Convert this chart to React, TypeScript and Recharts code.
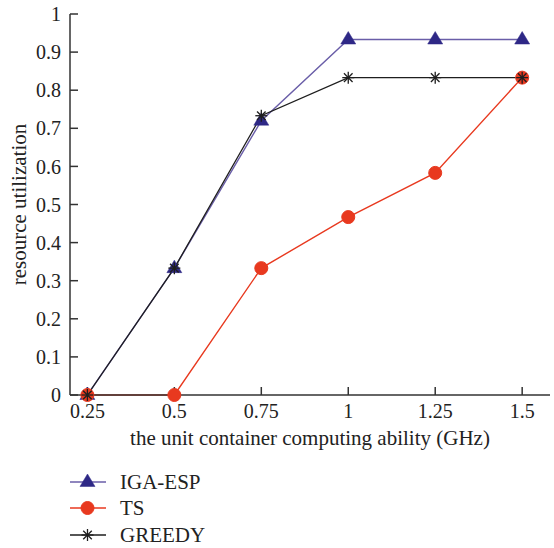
import React from 'react';
import { LineChart, Line, XAxis, YAxis, Legend, Label } from 'recharts';

const capacities = [0.25, 0.5, 0.75, 1, 1.25, 1.5];
const igaEspValues = [0, 0.333, 0.72, 0.933, 0.933, 0.933];
const tsValues = [0, 0, 0.333, 0.467, 0.583, 0.833];
const greedyValues = [0, 0.333, 0.733, 0.833, 0.833, 0.833];
const xTicks = [0.25, 0.5, 0.75, 1, 1.25, 1.5];
const yTicks = [0, 0.1, 0.2, 0.3, 0.4, 0.5, 0.6, 0.7, 0.8, 0.9, 1];
const seriesNames = ['IGA-ESP', 'TS', 'GREEDY'];
const seriesKeys = ['iga', 'ts', 'greedy'];

const data = capacities.map((c, i) => ({
  x: c,
  iga: igaEspValues[i],
  ts: tsValues[i],
  greedy: greedyValues[i],
}));

const FONT = '"Liberation Serif", "DejaVu Serif", serif';
const FS_TICK = 20;
const FS_LABEL = 21;
const AXIS = '#333';
const TEXT = '#222';

const IGA_LINE = '#6a5ea8';
const IGA_MARK = '#2e2886';
const TS_COLOR = '#e8391f';
const GREEDY_COLOR = '#1e1e1e';

const Triangle = ({ cx, cy }: any) => {
  if (cx == null || cy == null) return null;
  return (
    <polygon
      points={`${cx},${cy - 8} ${cx - 7.5},${cy + 4.5} ${cx + 7.5},${cy + 4.5}`}
      fill={IGA_MARK}
      stroke={IGA_MARK}
      strokeWidth={0.5}
    />
  );
};

const Circle = ({ cx, cy }: any) => {
  if (cx == null || cy == null) return null;
  return <circle cx={cx} cy={cy} r={6.5} fill={TS_COLOR} stroke={TS_COLOR} />;
};

const Star = ({ cx, cy }: any) => {
  if (cx == null || cy == null) return null;
  const r = 6;
  const d = 4.3;
  return (
    <g stroke={GREEDY_COLOR} strokeWidth={1.3}>
      <line x1={cx - r} y1={cy} x2={cx + r} y2={cy} />
      <line x1={cx} y1={cy - r} x2={cx} y2={cy + r} />
      <line x1={cx - d} y1={cy - d} x2={cx + d} y2={cy + d} />
      <line x1={cx - d} y1={cy + d} x2={cx + d} y2={cy - d} />
    </g>
  );
};

const seriesStyle: Record<string, { line: string; Marker: any }> = {
  iga: { line: IGA_LINE, Marker: Triangle },
  ts: { line: TS_COLOR, Marker: Circle },
  greedy: { line: GREEDY_COLOR, Marker: Star },
};

const renderLegend = (props: any) => {
  const payload = [...(props.payload || [])].sort(
    (a: any, b: any) => seriesKeys.indexOf(a.dataKey) - seriesKeys.indexOf(b.dataKey)
  );
  return (
    <div style={{ display: 'flex', flexDirection: 'column' }}>
      {payload.map((entry: any) => {
        const s = seriesStyle[entry.dataKey];
        if (!s) return null;
        const M = s.Marker;
        return (
          <div key={entry.dataKey} style={{ height: 26.5, display: 'flex', alignItems: 'center' }}>
            <svg width={36} height={20} style={{ display: 'block' }}>
              <line x1={0} x2={36} y1={10} y2={10} stroke={s.line} strokeWidth={1.4} />
              <M cx={17.5} cy={10} />
            </svg>
            <span
              style={{ fontFamily: FONT, fontSize: FS_LABEL, color: TEXT, marginLeft: 14, lineHeight: '26.5px' }}
            >
              {entry.value}
            </span>
          </div>
        );
      })}
    </div>
  );
};

const tickStyle = { fontFamily: FONT, fontSize: FS_TICK, fill: TEXT };

export default function App() {
  return (
    <div
      style={{
        position: 'absolute',
        left: 0,
        top: 0,
        width: 554,
        height: 548,
        background: '#fff',
        fontFamily: FONT,
      }}
    >
      <LineChart
        width={554}
        height={548}
        data={data}
        margin={{ top: 14, right: 4, bottom: 93, left: 0 }}
        style={{ fontFamily: FONT }}
      >
        <XAxis
          dataKey="x"
          type="number"
          domain={[0.2, 1.58]}
          ticks={xTicks}
          allowDataOverflow
          height={60}
          tickSize={-8}
          tickMargin={17}
          stroke={AXIS}
          strokeWidth={1.5}
          tick={tickStyle}
          interval={0}
        >
          <Label
            content={(p: any) => {
              const vb = p.viewBox || {};
              return (
                <text
                  x={vb.x + vb.width / 2}
                  y={vb.y + 50}
                  textAnchor="middle"
                  fontFamily={FONT}
                  fontSize={FS_LABEL}
                  fill={TEXT}
                >
                  the unit container computing ability (GHz)
                </text>
              );
            }}
          />
        </XAxis>
        <XAxis
          xAxisId="top"
          dataKey="x"
          type="number"
          orientation="top"
          domain={[0.2, 1.58]}
          ticks={xTicks}
          allowDataOverflow
          height={0}
          tickSize={-8}
          tickFormatter={() => ''}
          stroke={AXIS}
          strokeWidth={1.5}
          interval={0}
        />
        <YAxis
          type="number"
          domain={[0, 1]}
          ticks={yTicks}
          width={70}
          tickSize={-8}
          tickMargin={17}
          stroke={AXIS}
          strokeWidth={1.5}
          tick={tickStyle}
          interval={0}
        >
          <Label
            content={(p: any) => {
              const vb = p.viewBox || {};
              const cx = 19;
              const cy = vb.y + vb.height / 2;
              return (
                <text
                  x={cx}
                  y={cy}
                  textAnchor="middle"
                  dominantBaseline="central"
                  transform={`rotate(-90, ${cx}, ${cy})`}
                  fontFamily={FONT}
                  fontSize={FS_LABEL}
                  fill={TEXT}
                >
                  resource utilization
                </text>
              );
            }}
          />
        </YAxis>
        <YAxis
          yAxisId="right"
          type="number"
          orientation="right"
          domain={[0, 1]}
          ticks={yTicks}
          width={0}
          tickSize={-8}
          tickFormatter={() => ''}
          stroke={AXIS}
          strokeWidth={1.5}
          interval={0}
        />
        <Legend
          layout="horizontal"
          align="center"
          verticalAlign="middle"
          content={renderLegend}
          wrapperStyle={{ left: 70, top: 468.5, width: 'auto', height: 'auto' }}
        />
        <Line
          dataKey="iga"
          name={seriesNames[0]}
          stroke={IGA_LINE}
          strokeWidth={1.4}
          dot={<Triangle />}
          activeDot={false}
          isAnimationActive={false}
        />
        <Line
          dataKey="ts"
          name={seriesNames[1]}
          stroke={TS_COLOR}
          strokeWidth={1.4}
          dot={<Circle />}
          activeDot={false}
          isAnimationActive={false}
        />
        <Line
          dataKey="greedy"
          name={seriesNames[2]}
          stroke={GREEDY_COLOR}
          strokeWidth={1.3}
          dot={<Star />}
          activeDot={false}
          isAnimationActive={false}
        />
      </LineChart>
    </div>
  );
}
